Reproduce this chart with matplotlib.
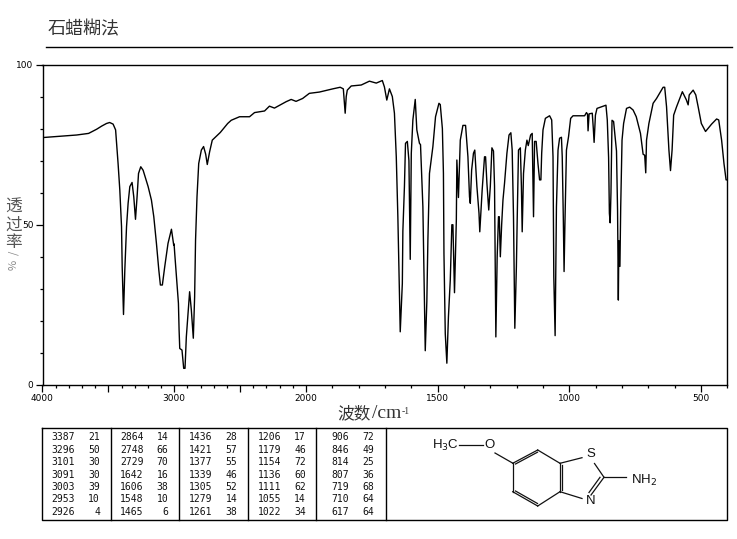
import matplotlib
matplotlib.use('Agg')
import matplotlib.pyplot as plt
import numpy as np

plt.rcParams['font.family'] = ['Noto Sans CJK SC', 'DejaVu Sans']

# spectrum
wn = [4000, 3900, 3741, 3650, 3589, 3550, 3514, 3490, 3464, 3445, 3426, 3413, 3400, 3395, 3385, 3375, 3362, 3350, 3337,
      3320, 3307, 3294, 3282, 3271, 3254, 3236, 3198, 3173, 3155, 3135, 3117, 3105, 3090, 3072, 3047, 3021,
      3004, 3001, 2996, 2983, 2968, 2963, 2958, 2941, 2928, 2918, 2908, 2895, 2883, 2870, 2855, 2845, 2838,
      2827, 2814, 2794, 2777, 2761, 2749, 2731, 2711, 2650, 2594, 2567, 2504, 2428, 2390, 2314, 2277, 2239,
      2150, 2112, 2075, 2025, 1987, 1949, 1898, 1870, 1858, 1851, 1847, 1843, 1828, 1790, 1759, 1733, 1710,
      1702, 1693, 1683, 1672, 1664, 1657, 1651, 1642, 1634, 1632, 1626, 1622, 1615, 1609, 1604, 1600, 1594,
      1585, 1579, 1569, 1565, 1556, 1547, 1541, 1537, 1531, 1518, 1508, 1495, 1490, 1482, 1478, 1476, 1471,
      1465, 1459, 1452, 1446, 1442, 1436, 1429, 1427, 1421, 1414, 1404, 1394, 1385, 1379, 1376, 1371, 1364,
      1359, 1351, 1343, 1340, 1331, 1322, 1318, 1313, 1306, 1300, 1294, 1288, 1284, 1279, 1274, 1269, 1266,
      1262, 1257, 1252, 1246, 1242, 1237, 1229, 1222, 1217, 1212, 1207, 1201, 1198, 1193, 1186, 1182, 1179,
      1174, 1167, 1161, 1156, 1147, 1141, 1136, 1132, 1126, 1119, 1113, 1108, 1105, 1100, 1091, 1075, 1067,
      1062, 1059, 1054, 1049, 1043, 1037, 1030, 1027, 1023, 1020, 1017, 1011, 1003, 995, 986, 942, 935, 931,
      929, 925, 913, 909, 906, 901, 895, 872, 861, 856, 851, 848, 845, 842, 838, 832, 825, 821, 817, 814, 812,
      808, 805, 800, 794, 783, 771, 758, 746, 730, 720, 714, 710, 707, 698, 682, 669, 654, 644, 638, 631, 622,
      616, 610, 604, 593, 581, 571, 556, 549, 545, 530, 520, 511, 499, 483, 460, 441, 433, 422, 413, 405, 400]
trans = [77.2, 77.5, 78.0, 78.5, 79.8, 80.8, 81.6, 81.9, 81.4, 79.6, 69.0, 60.8, 49.4, 36.9, 22.0, 35.9, 49.4, 56.7, 61.9,
         63.2, 58.7, 51.7, 58.7, 66.0, 68.1, 67.0, 61.9, 57.7, 52.5, 44.2, 35.9, 31.2, 31.2, 36.9, 44.2, 48.6,
         43.7, 44.0, 41.0, 33.8, 25.5, 17.2, 11.4, 10.9, 5.2, 5.2, 15.0, 22.4, 29.1, 23.4, 14.6, 27.5, 45.2,
         58.7, 69.1, 73.3, 74.4, 72.0, 68.8, 72.8, 76.4, 78.8, 81.6, 82.6, 83.7, 83.7, 85.0, 85.5, 87.0, 86.4,
         88.4, 89.1, 88.5, 89.4, 91.0, 91.4, 92.4, 92.9, 92.4, 84.8, 90.0, 92.0, 93.3, 93.6, 94.8, 94.2, 95.0,
         93.0, 88.9, 92.4, 90.0, 84.8, 71.2, 52.5, 16.6, 31.7, 48.0, 62.0, 75.4, 76.0, 70.0, 39.2, 72.3, 82.7,
         89.1, 79.6, 75.4, 75.0, 55.6, 10.7, 26.0, 45.2, 66.0, 74.4, 83.7, 87.9, 87.5, 80.0, 66.0, 41.0, 16.0,
         6.8, 21.3, 32.8, 50.0, 50.0, 28.8, 51.5, 70.2, 58.5, 76.4, 81.0, 81.0, 71.2, 58.7, 56.7, 67.0, 72.3,
         73.3, 62.0, 53.6, 47.8, 60.8, 71.2, 71.2, 63.0, 54.6, 62.0, 74.0, 73.0, 62.0, 15.0, 40.0, 52.5, 52.5,
         40.0, 50.0, 57.7, 63.0, 67.0, 72.3, 78.0, 78.7, 73.3, 52.5, 17.7, 37.0, 51.5, 73.3, 74.0, 62.0, 47.8,
         66.0, 73.3, 76.4, 74.7, 78.0, 78.5, 52.5, 76.0, 76.0, 69.0, 64.0, 64.0, 72.3, 79.6, 83.2, 84.0, 82.7,
         71.2, 33.8, 15.4, 55.6, 73.3, 77.0, 77.3, 71.2, 52.5, 35.4, 49.4, 73.3, 77.5, 83.2, 84.0, 84.0, 85.0,
         84.5, 79.3, 84.6, 84.8, 80.0, 75.7, 84.2, 86.3, 87.0, 87.3, 82.7, 71.0, 53.6, 50.6, 60.0, 82.6, 82.2,
         76.4, 73.0, 54.6, 26.5, 45.0, 37.0, 55.6, 76.4, 81.6, 86.3, 86.7, 85.8, 83.7, 78.5, 72.0, 71.7, 66.2,
         76.4, 81.6, 87.9, 89.4, 91.5, 92.9, 92.9, 86.8, 73.3, 66.9, 73.3, 84.2, 86.8, 89.4, 91.5, 89.0, 87.4,
         90.5, 92.0, 90.5, 86.8, 81.6, 79.1, 81.4, 83.0, 82.7, 76.4, 69.1, 64.0, 64.0]

# peak table, five pairs of columns
peak_wn = [[3387, 3296, 3101, 3091, 3003, 2953, 2926],
           [2864, 2748, 2729, 1642, 1606, 1548, 1465],
           [1436, 1421, 1377, 1339, 1305, 1279, 1261],
           [1206, 1179, 1154, 1136, 1111, 1055, 1022],
           [906, 846, 814, 807, 719, 710, 617]]
peak_t = [[21, 50, 30, 30, 39, 10, 4],
          [14, 66, 70, 16, 38, 10, 6],
          [28, 57, 55, 46, 52, 14, 38],
          [17, 46, 72, 60, 62, 14, 34],
          [72, 49, 25, 36, 68, 64, 64]]

table_rows = [437.3, 449.7, 462.3, 474.7, 486.9, 499.5, 511.8]
col_wn = [75, 143.5, 212, 281, 349]
col_t = [100, 168.5, 237.5, 306, 374.5]
dividers = [111, 179.3, 248.3, 316.3, 385.7]

# structure drawing, picture pixels
bonds = [((459, 445), (483, 445)), ((495, 453), (513, 463.3)),
         ((512.7, 463.3), (537.7, 450)), ((537.7, 450), (560, 463.3)),
         ((560, 463.3), (560, 491.7)), ((560, 491.7), (537.7, 506)),
         ((537.7, 506), (512.7, 491.7)), ((512.7, 491.7), (512.7, 463.3)),
         ((515.5, 464), (537.5, 452.2)), ((562.3, 465), (562.3, 490)),
         ((515.5, 491), (537.5, 503.5)),
         ((560, 463.3), (582, 457.7)), ((594.5, 463.5), (604, 477.3)),
         ((604, 477.3), (626, 477.3)), ((604, 477.3), (591, 495)),
         ((600, 477.3), (589, 492.5)), ((560, 491.7), (582, 498.5))]
atoms = [(489.7, 445, 'O'), (590.7, 454.3, 'S'), (590.7, 501, 'N')]

fig = plt.figure(figsize=(7.37, 5.39), dpi=100)
W, H = 737, 539


def squeeze(x):
    x = np.asarray(x, dtype=float)
    return np.where(x > 2000, 2000 + (x - 2000) * 0.5, x)


def unsqueeze(x):
    x = np.asarray(x, dtype=float)
    return np.where(x > 2000, 2000 + (x - 2000) * 2, x)


ax = fig.add_axes([42.5 / W, 1 - 385 / H, (727.4 - 42.5) / W, (385 - 64.5) / H])
ax.plot(wn, trans, color='black', lw=1.0)
ax.set_xscale('function', functions=(squeeze, unsqueeze))
ax.set_xlim(4000, 400)
ax.set_ylim(0, 100)
ax.set_xticks([4000, 3500, 3000, 2500, 2000, 1500, 1000, 500])
ax.set_xticklabels(['4000', '', '3000', '', '2000', '1500', '1000', '500'])
ax.set_xticks(np.arange(400, 4000, 100), minor=True)
ax.set_yticks([0, 50, 100])
ax.set_yticks(np.arange(0, 100, 10), minor=True)
ax.tick_params(axis='both', which='major', length=5, width=0.9, labelsize=6.5, pad=1.5)
ax.tick_params(axis='both', which='minor', length=2.2, width=0.9)
for lab in ax.get_xticklabels() + ax.get_yticklabels():
    lab.set_family('DejaVu Sans')
for s in ax.spines.values():
    s.set_linewidth(1.0)

# page level drawing in picture pixels
pg = fig.add_axes([0, 0, 1, 1], zorder=5)
pg.set_xlim(0, W)
pg.set_ylim(H, 0)
pg.axis('off')

pg.text(48, 29, '石蜡糊法', fontsize=13, color='#333333', va='center', ha='left')
pg.plot([46, 732], [47, 47], color='black', lw=1.0)

pg.text(354, 414, '波数', fontsize=12, color='#333333', ha='center', va='center')
pg.text(372, 414, '/cm', fontsize=14, family='Liberation Serif', color='#333333', ha='left', va='center')
pg.text(402, 411, '-1', fontsize=7, family='Liberation Serif', color='#333333', ha='left', va='center')
for y, ch in zip([207, 225, 242], '透过率'):
    pg.text(13.5, y, ch, fontsize=12, color='#555555', ha='center', va='center')
pg.text(13.5, 253, '/', fontsize=8, color='#888888', ha='center', va='center', rotation=90)
pg.text(13.5, 265, '%', fontsize=8, color='#888888', ha='center', va='center', rotation=90)

# table frame
pg.plot([42.3, 727.3, 727.3, 42.3, 42.3], [428.3, 428.3, 520, 520, 428.3], color='black', lw=1.0)
for d in dividers:
    pg.plot([d, d], [428.3, 520], color='black', lw=1.0)
for c in range(5):
    for r, y in enumerate(table_rows):
        pg.text(col_wn[c], y, str(peak_wn[c][r]), family='DejaVu Sans Mono', fontsize=7,
                ha='right', va='center', color='#111111')
        pg.text(col_t[c], y, str(peak_t[c][r]), family='DejaVu Sans Mono', fontsize=7,
                ha='right', va='center', color='#111111')

# molecule
for a, b in bonds:
    pg.plot([a[0], b[0]], [a[1], b[1]], color='#111111', lw=0.9)
for x, y, s in atoms:
    pg.text(x, y, s, fontsize=9.5, family='Liberation Sans', ha='center', va='center', color='#111111')
pg.text(432.5, 445, 'H$_3$C', fontsize=9.5, family='Liberation Sans', ha='left', va='center',
        color='#111111', math_fontfamily='dejavusans')
pg.text(631, 480, 'NH$_2$', fontsize=9.5, family='Liberation Sans', ha='left', va='center',
        color='#111111', math_fontfamily='dejavusans')

fig.savefig('out.png', dpi=100)
